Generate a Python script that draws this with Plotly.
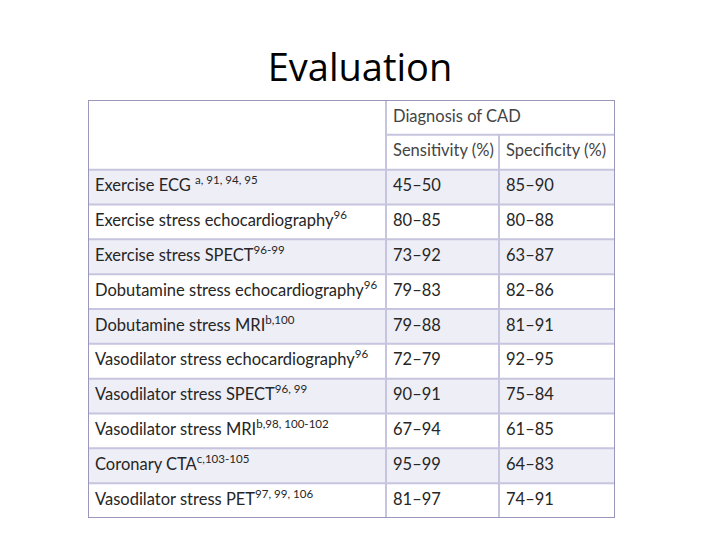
import plotly.graph_objects as go

title = "Evaluation"
group_header = "Diagnosis of CAD"
col_headers = ["Sensitivity (%)", "Specificity (%)"]

tests = [
    "Exercise ECG <sup>a, 91, 94, 95</sup>",
    "Exercise stress echocardiography<sup>96</sup>",
    "Exercise stress SPECT<sup>96-99</sup>",
    "Dobutamine stress echocardiography<sup>96</sup>",
    "Dobutamine stress MRI<sup>b,100</sup>",
    "Vasodilator stress echocardiography<sup>96</sup>",
    "Vasodilator stress SPECT<sup>96, 99</sup>",
    "Vasodilator stress MRI<sup>b,98, 100-102</sup>",
    "Coronary CTA<sup>c,103-105</sup>",
    "Vasodilator stress PET<sup>97, 99, 106</sup>",
]
sensitivity = ["45–50", "80–85", "73–92", "79–83", "79–88",
               "72–79", "90–91", "67–94", "95–99", "81–97"]
specificity = ["85–90", "80–88", "63–87", "82–86", "81–91",
               "92–95", "75–84", "61–85", "64–83", "74–91"]

# table geometry (column edges in pixel-like units, 2 header rows)
col_edges = [0, 298, 411, 527]
n_head = 2
n_rows = n_head + len(tests)
pad = 7
shade = "#EEEEF6"
inner = "#C6C4DE"
outer = "#9A98BA"
txt = "#262626"
head_txt = "#444444"
font = "Lato"

fig = go.Figure()

shapes = []
# alternating shaded rows
for i in range(len(tests)):
    if i % 2 == 0:
        shapes.append(dict(type="rect", xref="x", yref="y", layer="below",
                           x0=col_edges[0], x1=col_edges[-1],
                           y0=n_head + i, y1=n_head + i + 1,
                           fillcolor=shade, line_width=0))
# horizontal lines
shapes.append(dict(type="line", xref="x", yref="y", x0=col_edges[1], x1=col_edges[-1],
                   y0=1, y1=1, line=dict(color=inner, width=2)))
for r in range(n_head, n_rows):
    shapes.append(dict(type="line", xref="x", yref="y", x0=col_edges[0], x1=col_edges[-1],
                       y0=r, y1=r, line=dict(color=inner, width=2)))
# vertical lines
shapes.append(dict(type="line", xref="x", yref="y", x0=col_edges[1], x1=col_edges[1],
                   y0=0, y1=n_rows, line=dict(color=inner, width=2)))
shapes.append(dict(type="line", xref="x", yref="y", x0=col_edges[2], x1=col_edges[2],
                   y0=1, y1=n_rows, line=dict(color=inner, width=2)))
# outer border
shapes.append(dict(type="rect", xref="x", yref="y", x0=col_edges[0], x1=col_edges[-1],
                   y0=0, y1=n_rows, line=dict(color=outer, width=2)))

rows_y = [n_head + i + 0.5 for i in range(len(tests))]
for c, vals in enumerate([tests, sensitivity, specificity]):
    fig.add_trace(go.Scatter(
        x=[col_edges[c] + pad] * len(vals), y=rows_y, text=vals,
        mode="text", textposition="middle right", hoverinfo="skip",
        textfont=dict(family=font, size=16.5, color=txt)))

# header texts
fig.add_trace(go.Scatter(
    x=[col_edges[1] + pad, col_edges[1] + pad, col_edges[2] + pad],
    y=[0.5, 1.5, 1.5],
    text=[group_header] + col_headers,
    mode="text", textposition="middle right", hoverinfo="skip",
    textfont=dict(family=font, size=16.5, color=head_txt)))

fig.update_layout(
    width=720, height=540,
    margin=dict(l=80, r=113, t=92, b=30),
    paper_bgcolor="white", plot_bgcolor="white",
    showlegend=False, shapes=shapes,
    title=dict(text=title, x=352 / 720, xref="container", xanchor="center",
               y=1 - 60 / 540, yref="container", yanchor="middle",
               font=dict(family="Open Sans", size=38, color="black")),
    xaxis=dict(range=[col_edges[0], col_edges[-1]], visible=False, fixedrange=True),
    yaxis=dict(range=[n_rows, 0], visible=False, fixedrange=True),
)

fig.write_html("out.html")
